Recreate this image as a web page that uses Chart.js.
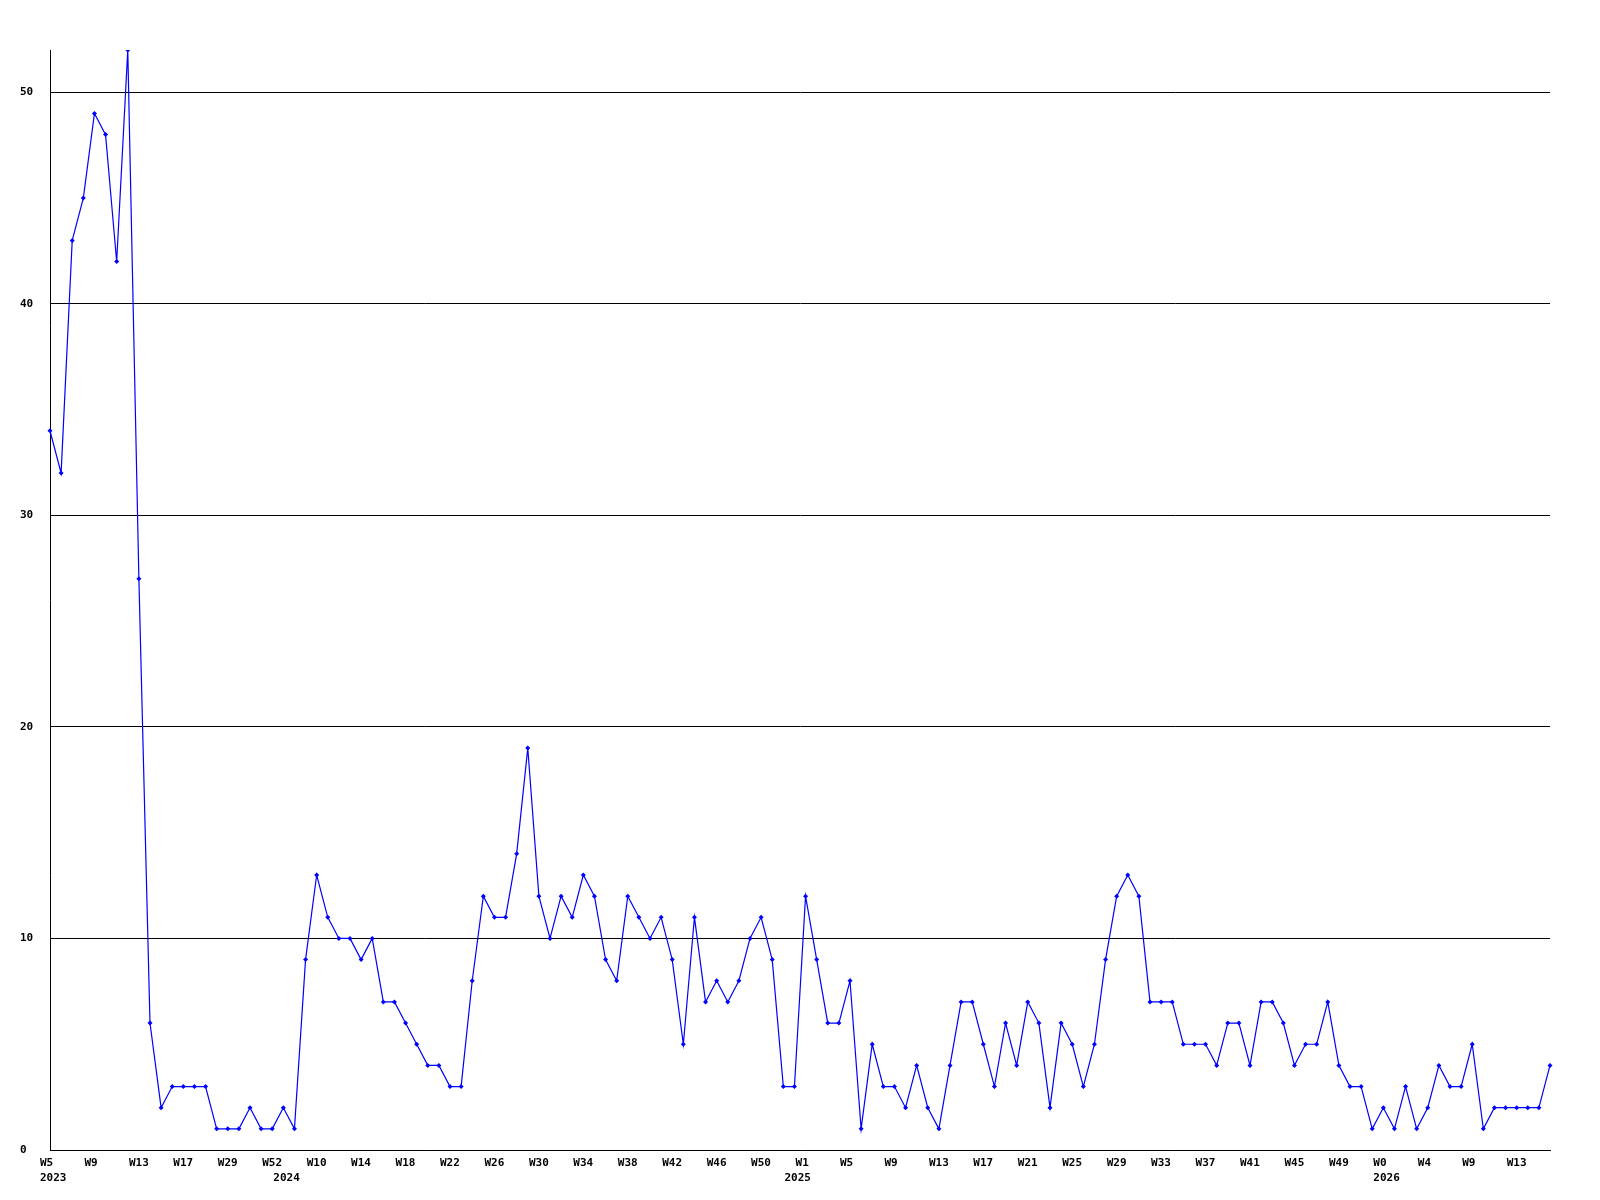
<!DOCTYPE html>
<html>
<head>
<meta charset="utf-8">
<script src="https://cdn.jsdelivr.net/npm/chart.js@4/dist/chart.umd.min.js"></script>
<style>
  body { margin: 0; background: #fff; }
  canvas { display: block; }
</style>
</head>
<body>
<canvas id="grafico" width="1600" height="1200"></canvas>
<script>
// week numbers per year, in the order they appear on the axis
const weeks2023 = [5, 6, 7, 8, 9, 10, 11, 12, 13, 14, 15, 16, 17, 18, 21, 25, 29, 35, 41, 47, 52];
const weeks2024 = [4, 7, 9, 10, 11, 12, 13, 14, 15, 16, 17, 18, 19, 20, 21, 22, 23, 24, 25, 26, 27, 28,
  29, 30, 31, 32, 33, 34, 35, 36, 37, 38, 39, 40, 41, 42, 43, 44, 45, 46, 47, 48, 49, 50, 51, 52];
const weeks2025 = [0, 1, 2, 3, 4, 5, 6, 7, 8, 9, 10, 11, 12, 13, 14, 15, 16, 17, 18, 19, 20, 21, 22, 23,
  24, 25, 26, 27, 28, 29, 30, 31, 32, 33, 34, 35, 36, 37, 38, 39, 40, 41, 42, 43, 44, 45, 46, 47, 48, 49,
  50, 51, 52];
const weeks2026 = [0, 1, 2, 3, 4, 5, 6, 8, 9, 10, 11, 12, 13, 14, 15, 16];

const valores = [
  34, 32, 43, 45, 49, 48, 42, 52, 27, 6, 2, 3, 3, 3, 3, 1, 1, 1, 2, 1, 1,
  2, 1, 9, 13, 11, 10, 10, 9, 10, 7, 7, 6, 5, 4, 4, 3, 3, 8, 12, 11, 11, 14, 19, 12, 10, 12, 11, 13, 12,
  9, 8, 12, 11, 10, 11, 9, 5, 11, 7, 8, 7, 8, 10, 11, 9, 3,
  3, 12, 9, 6, 6, 8, 1, 5, 3, 3, 2, 4, 2, 1, 4, 7, 7, 5, 3, 6, 4, 7, 6, 2, 6, 5, 3, 5, 9, 12, 13, 12,
  7, 7, 7, 5, 5, 5, 4, 6, 6, 4, 7, 7, 6, 4, 5, 5, 7, 4, 3, 3, 1,
  2, 1, 3, 1, 2, 4, 3, 3, 5, 1, 2, 2, 2, 2, 2, 4
];

const yTicks = [0, 10, 20, 30, 40, 50];

const categorias = [];
const anios = [];
[[2023, weeks2023], [2024, weeks2024], [2025, weeks2025], [2026, weeks2026]].forEach(([anio, semanas]) => {
  semanas.forEach((s, i) => {
    categorias.push("W" + s);
    anios.push(i === 0 ? String(anio) : "");
  });
});

const fuente = { family: "'DejaVu Sans Mono', monospace", size: 11, weight: "bold", lineHeight: 15 / 11 };

const ctx = document.getElementById("grafico").getContext("2d");

new Chart(ctx, {
  type: "line",
  data: {
    labels: categorias,
    datasets: [
      {
        data: valores,
        borderColor: "#0000ff",
        backgroundColor: "#0000ff",
        borderWidth: 1.2,
        tension: 0,
        pointStyle: "rectRot",
        pointRadius: 2.5,
        pointBorderWidth: 0,
        pointBackgroundColor: "#0000ff",
      },
    ],
  },
  options: {
    responsive: false,
    animation: false,
    layout: { padding: { top: 50, left: 20, right: 50, bottom: 0 } },
    plugins: {
      legend: { display: false },
      tooltip: { enabled: false },
    },
    scales: {
      x: {
        grid: { display: false, drawTicks: false },
        border: { display: true, color: "#000", width: 1 },
        afterFit: (scale) => { scale.height = 50; },
        ticks: {
          autoSkip: false,
          maxRotation: 0,
          minRotation: 0,
          align: "start",
          labelOffset: -10,
          padding: 6,
          color: "#000",
          font: fuente,
          callback: (value, i) => {
            const semana = i % 4 === 0 ? categorias[i] : "";
            const anio = anios[i];
            if (!semana && !anio) return null;
            return anio ? [semana, anio] : semana;
          },
        },
      },
      y: {
        min: 0,
        max: 52,
        grid: { color: "#000", lineWidth: 1, drawTicks: false },
        border: { display: true, color: "#000", width: 1 },
        afterFit: (scale) => { scale.width = 30; },
        afterBuildTicks: (scale) => { scale.ticks = yTicks.map((v) => ({ value: v })); },
        ticks: {
          crossAlign: "far",
          color: "#000",
          font: fuente,
        },
      },
    },
  },
});
</script>
</body>
</html>
